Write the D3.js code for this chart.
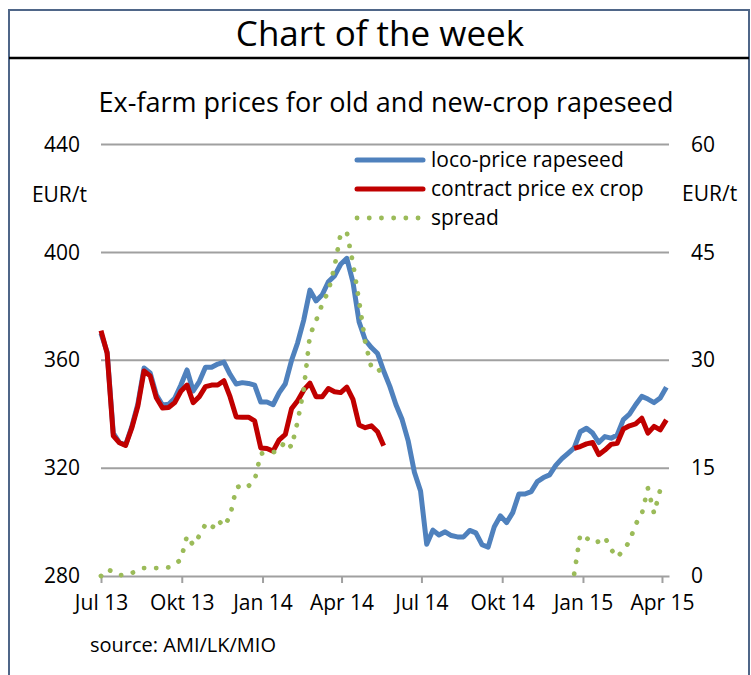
<!DOCTYPE html>
<html>
<head>
<meta charset="utf-8">
<script src="https://cdn.jsdelivr.net/npm/d3@7"></script>
<style>
  body { margin: 0; background: #fff; }
  svg { display: block; font-family: "Open Sans", sans-serif; }
  .lbl { font-size: 21px; fill: #000; }
</style>
</head>
<body>
<div id="chart"></div>
<script>
// weekly quotes, starting Monday 1 Jul 2013
var startWeek = "2013-07-01";
var endWeek = "2015-04-06";

var loco = [370, 363, 333, 329.5, 328.6, 335.3, 343.8, 357.1, 355.3, 347.2,
   343.4, 343.7, 345.9, 350.8, 356.4, 348.6, 352.1, 357.4, 357.4, 358.6,
   359.3, 354.8, 351.2, 351.7, 351.4, 350.8, 344.5, 344.5, 343.5, 348.0,
   351.3, 359.9, 366.5, 375.0, 386.0, 382.0, 384.3, 389.1, 391.3, 395.6,
   397.8, 389.0, 374.2, 367.5, 364.7, 362.5, 356.0, 350.3, 343.5, 338.0,
   330.0, 318.5, 311.5, 291.8, 297.0, 295.2, 296.4, 295.0, 294.5, 294.5,
   296.9, 296.0, 291.6, 290.7, 298.3, 302.3, 299.8, 303.5, 310.4, 310.4,
   311.3, 315.0, 316.5, 317.5, 321.0, 323.5, 325.5, 327.5, 333.5, 334.8,
   333.0, 329.5, 331.7, 331.1, 332.3, 338.0, 340.0, 343.5, 346.6, 345.6,
   344.3, 346.0, 350.0];

var contract = [371, 362.6, 332, 329.4, 328.4, 334.8, 343, 356, 354.2, 346.1,
   342.3, 342.5, 344.3, 348.5, 350.8, 344.3, 346.5, 350.2, 350.8, 350.8,
   352.4, 346.5, 339, 338.9, 338.9, 337.5, 327.5, 327.3, 326.3, 330.5,
   332.5, 342, 345, 349, 351.5, 346.5, 346.5, 349.5, 348.3, 348,
   350, 345.5, 336, 335, 335.7, 333.5, 328.3, null, null, null,
   null, null, null, null, null, null, null, null, null, null,
   null, null, null, null, null, null, null, null, null, null,
   null, null, null, null, null, null, null, 327.3, 328, 329,
   329.5, 325, 326.7, 328.8, 329.2, 334.5, 335.7, 336.4, 338.5, 333,
   335.5, 334.2, 337.9];

var spread = [0, 0.9, 0.6, 0.1, 0.2, 0.4, 0.8, 1.1, 1.1, 1.1,
   1.1, 1.2, 1.6, 2.3, 5.6, 4.3, 5.6, 7.2, 6.6, 7.8,
   6.9, 8.3, 12.2, 12.8, 12.5, 13.3, 17.0, 17.2, 17.2, 17.5,
   18.8, 17.9, 21.5, 26.0, 33.5, 35.5, 37.8, 39.6, 43.0, 47.6,
   47.8, 43.5, 38.2, 32.5, 29.0, 29.0, 27.5, null, null, null,
   null, null, null, null, null, null, null, null, null, null,
   null, null, null, null, null, null, null, null, null, null,
   null, null, null, null, null, null, null, 0.3, 5.8, 5.3,
   4.6, 4.8, 5.4, 3.7, 2.6, 3.6, 4.8, 7.2, 8.6, 12.2,
   8.7, 12.0, 12.8];

var tickDates = ["2013-07-01", "2013-10-01", "2014-01-01", "2014-04-01",
   "2014-07-01", "2014-10-01", "2015-01-01", "2015-04-01"];
var tickLabels = ["Jul 13", "Okt 13", "Jan 14", "Apr 14", "Jul 14", "Okt 14", "Jan 15", "Apr 15"];
var leftTicks = [280, 320, 360, 400, 440];
var rightTicks = [0, 15, 30, 45, 60];

var seriesNames = ["loco-price rapeseed", "contract price ex crop", "spread"];
var seriesColors = ["#4F81BD", "#C00000", "#9BBB59"];

var width = 751, height = 675;
var margin = { top: 144.5, left: 101, right: 82, bottom: 99 };
var w = width - margin.left - margin.right;
var h = height - margin.top - margin.bottom;

var parse = d3.utcParse("%Y-%m-%d");
var weeks = d3.utcMonday.range(parse(startWeek), d3.utcDay.offset(parse(endWeek), 1));

var data = weeks.map(function (d, i) {
   return { date: d, loco: loco[i], contract: contract[i], spread: spread[i] };
});

var x = d3.scaleUtc()
   .domain([parse(startWeek), parse("2015-04-09")])
   .range([0, w]);
var yL = d3.scaleLinear().domain([280, 440]).range([h, 0]);
var yR = d3.scaleLinear().domain([0, 60]).range([h, 0]);

var svg = d3.select("#chart").append("svg")
   .attr("width", width)
   .attr("height", height);

// frame and header
svg.append("rect")
   .attr("x", 9).attr("y", 10)
   .attr("width", 740).attr("height", 700)
   .attr("fill", "none")
   .attr("stroke", "#4F6688")
   .attr("stroke-width", 2);
svg.append("line")
   .attr("x1", 9).attr("x2", 749)
   .attr("y1", 58).attr("y2", 58)
   .attr("stroke", "#000")
   .attr("stroke-width", 2.5);
svg.append("text")
   .attr("x", 380).attr("y", 46)
   .attr("text-anchor", "middle")
   .style("font-size", "35px")
   .text("Chart of the week");
svg.append("text")
   .attr("x", 386).attr("y", 112)
   .attr("text-anchor", "middle")
   .style("font-size", "27px")
   .text("Ex-farm prices for old and new-crop rapeseed");

var g = svg.append("g")
   .attr("transform", "translate(" + margin.left + "," + margin.top + ")");

// gridlines
g.selectAll(".grid")
   .data(leftTicks.slice(1))
   .enter().append("line")
   .attr("x1", 0).attr("x2", w)
   .attr("y1", function (d) { return yL(d); })
   .attr("y2", function (d) { return yL(d); })
   .attr("stroke", "#A0A0A0")
   .attr("stroke-width", 2);

// x axis
var xAxis = d3.axisBottom(x)
   .tickValues(tickDates.map(parse))
   .tickFormat(function (d, i) { return tickLabels[i]; })
   .tickSize(7)
   .tickPadding(8)
   .tickSizeOuter(0);
var gX = g.append("g")
   .attr("transform", "translate(0," + h + ")")
   .call(xAxis);
gX.select(".domain").attr("stroke", "#A0A0A0").attr("stroke-width", 2);
gX.selectAll(".tick line").attr("stroke", "#A0A0A0").attr("stroke-width", 2);
gX.selectAll(".tick text").attr("class", "lbl").attr("dy", "0.9em").style("font-family", "Open Sans");

// y axes, labels only
var gYL = g.append("g")
   .call(d3.axisLeft(yL).tickValues(leftTicks).tickSize(0).tickPadding(21));
gYL.select(".domain").remove();
gYL.selectAll(".tick text").attr("class", "lbl").style("font-family", "Open Sans");

var gYR = g.append("g")
   .attr("transform", "translate(" + w + ",0)")
   .call(d3.axisRight(yR).tickValues(rightTicks).tickSize(0).tickPadding(22));
gYR.select(".domain").remove();
gYR.selectAll(".tick text").attr("class", "lbl").style("font-family", "Open Sans");

svg.append("text").attr("class", "lbl")
   .attr("x", 87).attr("y", 195).attr("dy", "0.35em")
   .attr("text-anchor", "end")
   .text("EUR/t");
svg.append("text").attr("class", "lbl")
   .attr("x", 682).attr("y", 194).attr("dy", "0.35em")
   .text("EUR/t");

// lines
var locoLine = d3.line()
   .defined(function (d) { return d.loco != null; })
   .x(function (d) { return x(d.date); })
   .y(function (d) { return yL(d.loco); });
var contractLine = d3.line()
   .defined(function (d) { return d.contract != null; })
   .x(function (d) { return x(d.date); })
   .y(function (d) { return yL(d.contract); });
var spreadLine = d3.line()
   .defined(function (d) { return d.spread != null; })
   .x(function (d) { return x(d.date); })
   .y(function (d) { return yR(d.spread); });

g.append("path").datum(data)
   .attr("d", locoLine)
   .attr("fill", "none")
   .attr("stroke", seriesColors[0])
   .attr("stroke-width", 5)
   .attr("stroke-linejoin", "round");
g.append("path").datum(data)
   .attr("d", contractLine)
   .attr("fill", "none")
   .attr("stroke", seriesColors[1])
   .attr("stroke-width", 5)
   .attr("stroke-linejoin", "round");
g.append("path").datum(data)
   .attr("d", spreadLine)
   .attr("fill", "none")
   .attr("stroke", seriesColors[2])
   .attr("stroke-width", 4.8)
   .attr("stroke-linecap", "round")
   .attr("stroke-dasharray", "0.1,12");

// legend
var legend = svg.append("g").attr("transform", "translate(357,160)");
var item = legend.selectAll(".item")
   .data(seriesNames)
   .enter().append("g")
   .attr("transform", function (d, i) { return "translate(0," + (i * 29) + ")"; });
item.append("line")
   .attr("x1", 0).attr("x2", 66)
   .attr("stroke", function (d, i) { return seriesColors[i]; })
   .attr("stroke-width", function (d, i) { return i == 2 ? 4.8 : 5; })
   .attr("stroke-linecap", "round")
   .attr("stroke-dasharray", function (d, i) { return i == 2 ? "0.1,12.1" : null; });
item.append("text").attr("class", "lbl")
   .attr("x", 74).attr("dy", "0.35em")
   .text(function (d) { return d; });

svg.append("text")
   .attr("x", 90).attr("y", 652)
   .style("font-size", "20px")
   .text("source: AMI/LK/MIO");
</script>
</body>
</html>
